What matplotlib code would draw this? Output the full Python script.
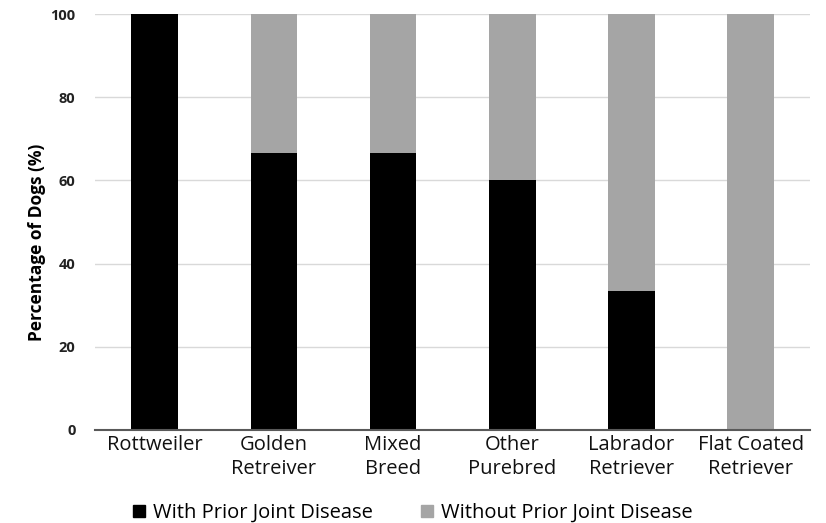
import matplotlib
matplotlib.use("Agg")
import matplotlib.pyplot as plt
from matplotlib.patches import Patch

categories = ["Rottweiler", "Golden\nRetreiver", "Mixed\nBreed", "Other\nPurebred",
              "Labrador\nRetriever", "Flat Coated\nRetriever"]
with_prior = [100, 66.7, 66.7, 60, 33.3, 0]
without_prior = [0, 33.3, 33.3, 40, 66.7, 100]
yticks = [0, 20, 40, 60, 80, 100]

plt.rcParams['font.family'] = ['Open Sans', 'DejaVu Sans']

fig = plt.figure(figsize=(8.26, 5.23), dpi=100)
ax = fig.add_axes([0.115, 0.178, 0.866, 0.795])

x = list(range(len(categories)))
ax.bar(x, with_prior, width=0.39, color="#000000", label="With Prior Joint Disease", zorder=3)
ax.bar(x, without_prior, width=0.39, bottom=with_prior, color="#a5a5a5",
       label="Without Prior Joint Disease", zorder=3)

ax.set_xlim(-0.5, 5.5)
ax.set_ylim(0, 100)
ax.set_yticks(yticks)
ax.set_yticklabels([str(v) for v in yticks], fontsize=10.5, fontweight="bold", color="#222222")
ax.set_xticks(x)
ax.set_xticklabels(categories, fontsize=14.5, color="#111111", linespacing=1.25)
ax.tick_params(axis="both", length=0)
ax.tick_params(axis="y", pad=14)
ax.tick_params(axis="x", pad=4)
ax.grid(axis="y", color="#d9d9d9", linewidth=1, zorder=0)
for s in ["top", "right", "left"]:
    ax.spines[s].set_visible(False)
ax.spines["bottom"].set_color("#595959")
ax.spines["bottom"].set_linewidth(1.5)
ax.spines["bottom"].set_zorder(4)
ax.set_ylabel("Percentage of Dogs (%)", fontsize=12.5, fontweight="bold")
ax.yaxis.set_label_coords(-0.068, 0.45)

handles = [Patch(color="#000000", label="With Prior Joint Disease"),
           Patch(color="#a5a5a5", label="Without Prior Joint Disease")]
fig.legend(handles=handles, loc="lower center", bbox_to_anchor=(0.5, -0.035), ncol=2,
           frameon=False, handlelength=0.6, handleheight=0.6,
           handletextpad=0.4, columnspacing=2.4, prop={"size": 14.5})

fig.savefig("out.png", dpi=100)
